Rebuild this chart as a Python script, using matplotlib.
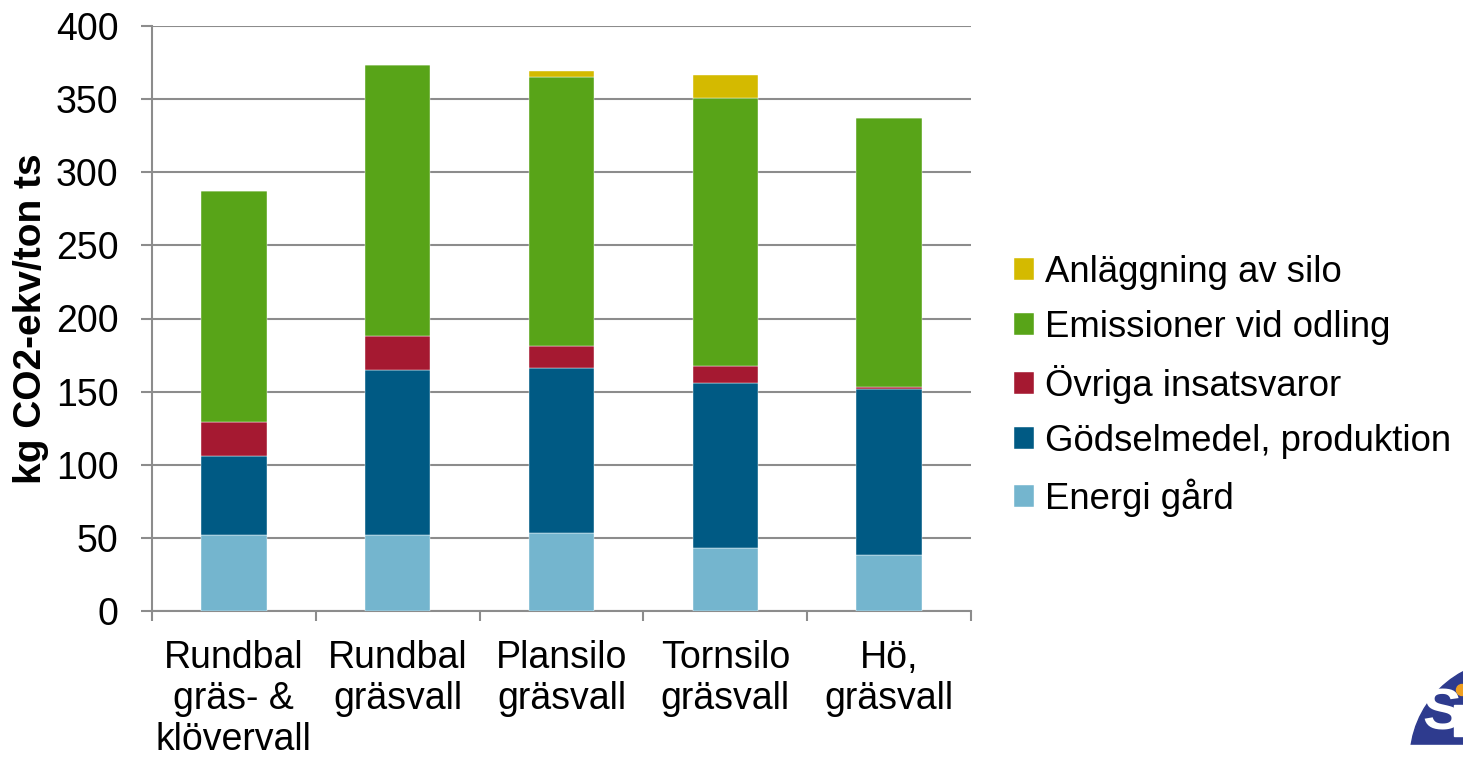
import matplotlib.pyplot as plt
import matplotlib.patches as mpatches
import numpy as np

plt.rcParams['font.family'] = ['Liberation Sans', 'DejaVu Sans']

categories = ["Rundbal\ngräs- &\nklövervall", "Rundbal\ngräsvall", "Plansilo\ngräsvall",
              "Tornsilo\ngräsvall", "Hö,\ngräsvall"]

# stacked segment heights, kg CO2-ekv/ton ts
energi = [52, 52, 53, 43, 38]
godsel = [54, 113, 113, 113, 114]
ovriga = [23.5, 23, 15.5, 11.5, 1.5]
emission = [157.5, 185, 183.5, 183.5, 183.5]
silo = [0, 0, 4, 15.5, 0]

series = [
    ("Energi gård", energi, "#74B5CE"),
    ("Gödselmedel, produktion", godsel, "#005A84"),
    ("Övriga insatsvaror", ovriga, "#A51931"),
    ("Emissioner vid odling", emission, "#58A418"),
    ("Anläggning av silo", silo, "#D4BA00"),
]

W, H = 1463, 757
fig = plt.figure(figsize=(W / 100, H / 100), dpi=100)
ax = fig.add_axes([152 / W, 1 - 611 / H, (971 - 152) / W, (611 - 26) / H])

x = np.arange(len(categories))
bottom = np.zeros(len(categories))
handles = []
for name, vals, col in series:
    b = ax.bar(x, vals, width=0.4, bottom=bottom, color=col, label=name, zorder=3,
               edgecolor="white", linewidth=0.3)
    handles.append(b)
    bottom += np.array(vals)

grey = "#8C8C8C"
ax.set_ylim(0, 400)
ax.set_xlim(-0.5, 4.5)
ax.set_yticks(np.arange(0, 401, 50))
ax.yaxis.grid(True, color=grey, linewidth=1.5, zorder=0)
ax.tick_params(axis="y", labelsize=27, length=8, width=1.5, color=grey, pad=16)
ax.set_xticks(x)
ax.set_xticklabels(categories, fontsize=27, linespacing=1.18)
ax.tick_params(axis="x", which="major", length=0, pad=21)
ax.set_xticks(np.arange(-0.5, 4.6, 1), minor=True)
ax.tick_params(axis="x", which="minor", length=7.5, width=1.5, color=grey)
ax.spines["top"].set_visible(False)
ax.spines["right"].set_visible(False)
for s in ["left", "bottom"]:
    ax.spines[s].set_color(grey)
    ax.spines[s].set_linewidth(1.5)

ax.set_ylabel("kg CO2-ekv/ton ts", fontsize=28, fontweight="bold", labelpad=5)

fig.legend(handles[::-1], [s[0] for s in series][::-1], loc="center left",
           bbox_to_anchor=(1014 / W, 1 - 386 / H), frameon=False, fontsize=26.3,
           handlelength=0.55, handleheight=0.55, handletextpad=0.3, labelspacing=0.55,
           borderpad=0, borderaxespad=0)

# partial logo in the corner
fig.patches.append(mpatches.Ellipse((1510 / W, 1 - 760 / H), 200 / W, 200 / H,
                                    transform=fig.transFigure, color="#2E3B8E", zorder=1))
fig.text(1422 / W, 1 - 715 / H, "S", color="white", fontsize=42, fontweight="bold",
         va="center", ha="left", zorder=3)
fig.patches.append(mpatches.Rectangle((1454 / W, 1 - 736 / H), 10 / W, 31 / H,
                                      transform=fig.transFigure, color="white", zorder=3))
fig.patches.append(mpatches.Ellipse((1462 / W, 1 - 690 / H), 11 / W, 11 / H,
                                    transform=fig.transFigure, color="#F0A020", zorder=3))
fig.patches.append(mpatches.Rectangle((1380 / W, 0), 83 / W, 12 / H, transform=fig.transFigure,
                                      color="white", zorder=4))

fig.savefig("out.png", dpi=100)
